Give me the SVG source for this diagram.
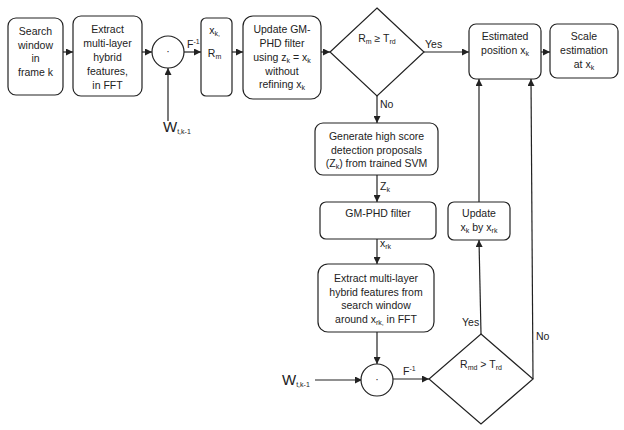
<svg xmlns="http://www.w3.org/2000/svg" width="624" height="430" viewBox="0 0 624 430">
  <style>
    .box { fill: #fff; stroke: #222; stroke-width: 1.2; }
    .ln { fill: none; stroke: #222; stroke-width: 1.2; }
    text { font-family: "Liberation Sans", Arial, sans-serif; font-size: 10.5px; fill: #222; }
    .c { text-anchor: middle; }
    .sub { font-size: 7px; }
    .big { font-size: 15px; }
  </style>
  <defs>
    <marker id="arr" viewBox="0 0 8 8" refX="8" refY="4" markerWidth="7" markerHeight="7" markerUnits="userSpaceOnUse" orient="auto">
      <path d="M0,0 L8,4 L0,8 Z" fill="#222"/>
    </marker>
  </defs>

  <!-- connectors -->
  <g id="connectors">
    <line class="ln" x1="63" y1="52" x2="73" y2="52" marker-end="url(#arr)"/>
    <line class="ln" x1="142" y1="52" x2="152" y2="52" marker-end="url(#arr)"/>
    <line class="ln" x1="168" y1="121" x2="168" y2="68" marker-end="url(#arr)"/>
    <line class="ln" x1="184" y1="52" x2="201" y2="52" marker-end="url(#arr)"/>
    <line class="ln" x1="232" y1="52" x2="243" y2="52" marker-end="url(#arr)"/>
    <line class="ln" x1="321" y1="52" x2="330" y2="52" marker-end="url(#arr)"/>
    <line class="ln" x1="424" y1="52" x2="469" y2="52" marker-end="url(#arr)"/>
    <line class="ln" x1="541" y1="52" x2="550" y2="52" marker-end="url(#arr)"/>
    <line class="ln" x1="377" y1="96" x2="377" y2="123" marker-end="url(#arr)"/>
    <line class="ln" x1="377" y1="175" x2="377" y2="202" marker-end="url(#arr)"/>
    <line class="ln" x1="377" y1="239" x2="377" y2="264" marker-end="url(#arr)"/>
    <line class="ln" x1="377" y1="332" x2="377" y2="364" marker-end="url(#arr)"/>
    <line class="ln" x1="315" y1="380" x2="362" y2="380" marker-end="url(#arr)"/>
    <line class="ln" x1="393" y1="379" x2="429" y2="379" marker-end="url(#arr)"/>
    <line class="ln" x1="481" y1="334" x2="479" y2="240" marker-end="url(#arr)"/>
    <line class="ln" x1="479" y1="202" x2="479" y2="79" marker-end="url(#arr)"/>
    <line class="ln" x1="533" y1="379" x2="531" y2="79" marker-end="url(#arr)"/>
  </g>

  <!-- connector labels -->
  <g id="labels">
    <text x="187" y="48">F<tspan class="sub" dy="-4">-1</tspan></text>
    <text x="163" y="132"><tspan class="big">W</tspan><tspan class="sub" dy="2">t,k-1</tspan></text>
    <text x="425" y="48">Yes</text>
    <text x="380" y="108">No</text>
    <text x="380" y="190">Z<tspan class="sub" dy="2">k</tspan></text>
    <text x="380" y="247">x<tspan class="sub" dy="2">rk</tspan></text>
    <text x="282" y="385"><tspan class="big">W</tspan><tspan class="sub" dy="2">t,k-1</tspan></text>
    <text x="403" y="375">F<tspan class="sub" dy="-4">-1</tspan></text>
    <text x="462" y="326">Yes</text>
    <text x="536" y="340">No</text>
  </g>

  <!-- nodes -->
  <g id="search-window">
    <rect class="box" x="8" y="18" width="55" height="77" rx="8"/>
    <text class="c" x="35.5" y="35">Search</text>
    <text class="c" x="35.5" y="48.5">window</text>
    <text class="c" x="35.5" y="62">in</text>
    <text class="c" x="35.5" y="75.5">frame k</text>
  </g>

  <g id="extract-features">
    <rect class="box" x="73" y="16" width="69" height="80" rx="8"/>
    <text class="c" x="107.5" y="33">Extract</text>
    <text class="c" x="107.5" y="47">multi-layer</text>
    <text class="c" x="107.5" y="61">hybrid</text>
    <text class="c" x="107.5" y="75">features,</text>
    <text class="c" x="107.5" y="89">in FFT</text>
  </g>

  <g id="product-1">
    <circle class="box" cx="168" cy="52" r="16"/>
    <text class="c" x="168" y="55">·</text>
  </g>

  <g id="response">
    <rect class="box" x="201" y="18" width="31" height="78" rx="5"/>
    <text class="c" x="214.5" y="34">x<tspan class="sub" dy="2">k,</tspan></text>
    <text class="c" x="214.5" y="57">R<tspan class="sub" dy="2">m</tspan></text>
  </g>

  <g id="update-gmphd">
    <rect class="box" x="243" y="16" width="78" height="83" rx="10"/>
    <text class="c" x="282" y="33">Update GM-</text>
    <text class="c" x="282" y="47">PHD filter</text>
    <text class="c" x="282" y="61">using z<tspan class="sub" dy="2">k</tspan><tspan dy="-2"> = x</tspan><tspan class="sub" dy="2">k</tspan></text>
    <text class="c" x="282" y="75">without</text>
    <text class="c" x="282" y="88">refining x<tspan class="sub" dy="2">k</tspan></text>
  </g>

  <g id="decision-1">
    <polygon class="box" points="377,8 424,52 377,96 330,52"/>
    <text class="c" x="377" y="42">R<tspan class="sub" dy="2">m</tspan><tspan dy="-2">  ≥ T</tspan><tspan class="sub" dy="2">rd</tspan></text>
  </g>

  <g id="estimated-position">
    <rect class="box" x="469" y="24" width="72" height="55" rx="7"/>
    <text class="c" x="505" y="40">Estimated</text>
    <text class="c" x="505" y="54">position x<tspan class="sub" dy="2">k</tspan></text>
  </g>

  <g id="scale-estimation">
    <rect class="box" x="550" y="24" width="68" height="54" rx="7"/>
    <text class="c" x="584" y="40">Scale</text>
    <text class="c" x="584" y="54">estimation</text>
    <text class="c" x="584" y="68">at x<tspan class="sub" dy="2">k</tspan></text>
  </g>

  <g id="detection-proposals">
    <rect class="box" x="315" y="123" width="123" height="52" rx="8"/>
    <text class="c" x="376.5" y="140">Generate high score</text>
    <text class="c" x="376.5" y="154">detection proposals</text>
    <text class="c" x="376.5" y="167">(Z<tspan class="sub" dy="2">k</tspan><tspan dy="-2">) from trained SVM</tspan></text>
  </g>

  <g id="gmphd-filter">
    <rect class="box" x="320" y="202" width="116" height="37" rx="6"/>
    <text class="c" x="378" y="217">GM-PHD filter</text>
  </g>

  <g id="update-position">
    <rect class="box" x="448" y="202" width="62" height="38" rx="6"/>
    <text class="c" x="479" y="217">Update</text>
    <text class="c" x="479" y="231">x<tspan class="sub" dy="2">k</tspan><tspan dy="-2"> by x</tspan><tspan class="sub" dy="2">rk</tspan></text>
  </g>

  <g id="extract-around">
    <rect class="box" x="318" y="264" width="116" height="68" rx="10"/>
    <text class="c" x="376" y="282">Extract multi-layer</text>
    <text class="c" x="376" y="296">hybrid features from</text>
    <text class="c" x="376" y="309">search window</text>
    <text class="c" x="376" y="323">around x<tspan class="sub" dy="2">rk,</tspan><tspan dy="-2"> in FFT</tspan></text>
  </g>

  <g id="product-2">
    <circle class="box" cx="377" cy="380" r="16"/>
    <text class="c" x="377" y="383">·</text>
  </g>

  <g id="decision-2">
    <polygon class="box" points="481,334 533,379 481,424 429,379"/>
    <text class="c" x="481" y="368">R<tspan class="sub" dy="2">md</tspan><tspan dy="-2">  &gt; T</tspan><tspan class="sub" dy="2">rd</tspan></text>
  </g>
</svg>
